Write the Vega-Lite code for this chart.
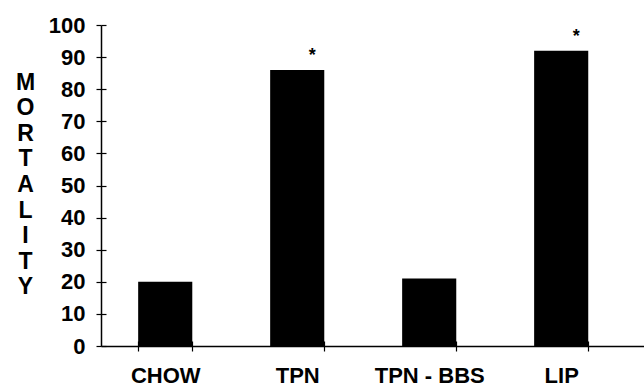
{
  "$schema": "https://vega.github.io/schema/vega-lite/v6.json",
  "autosize": "none",
  "padding": {"left": 101, "top": 25, "right": 0, "bottom": 41},
  "width": 543,
  "height": 321,
  "background": "white",
  "config": {
    "view": {"stroke": null},
    "font": "Liberation Sans",
    "axis": {"grid": false, "domainColor": "black", "tickColor": "black", "labelColor": "black", "titleColor": "black", "labelFont": "Liberation Sans", "titleFont": "Liberation Sans"}
  },
  "data": {
    "values": [
      {"group": "CHOW", "mortality": 20, "sig": ""},
      {"group": "TPN", "mortality": 86, "sig": "*"},
      {"group": "TPN - BBS", "mortality": 21, "sig": ""},
      {"group": "LIP", "mortality": 92, "sig": "*"}
    ]
  },
  "resolve": {"axis": {"x": "independent", "y": "independent"}},
  "layer": [
    {
      "mark": {"type": "bar", "color": "black"},
      "encoding": {
        "x": {
          "field": "group", "type": "nominal", "sort": null,
          "scale": {"paddingInner": 0.59, "paddingOuter": 0.352, "align": 0.4},
          "axis": {"title": null, "labelAngle": 0, "labelFontSize": 22, "labelFontWeight": "bold", "tickBand": "extent", "tickSize": 5, "labelPadding": 14, "domainWidth": 1.5, "tickWidth": 1.2}
        },
        "y": {
          "field": "mortality", "type": "quantitative",
          "scale": {"domain": [0, 100], "nice": false},
          "axis": {
            "values": [0, 10, 20, 30, 40, 50, 60, 70, 80, 90, 100],
            "labelOverlap": false,
            "labelFontSize": 22, "labelFontWeight": "bold", "tickSize": 5, "labelPadding": 11,
            "domainWidth": 1.5, "tickWidth": 1.2,
            "title": ["M", "O", "R", "T", "A", "L", "I", "T", "Y"],
            "titleAngle": 0, "titleAlign": "center", "titleBaseline": "middle",
            "titleX": -76, "titleY": 57, "titleFontSize": 23, "titleFontWeight": "bold", "titleLineHeight": 25.6
          }
        }
      }
    },
    {
      "mark": {"type": "text", "fontSize": 18, "fontWeight": "bold", "dx": 15, "dy": -9, "baseline": "alphabetic", "color": "black"},
      "encoding": {
        "x": {
          "field": "group", "type": "nominal", "sort": null,
          "scale": {"paddingInner": 0.59, "paddingOuter": 0.352, "align": 0.4},
          "axis": {"orient": "bottom", "title": null, "labels": false, "domain": false, "tickBand": "extent", "tickSize": -5, "tickWidth": 1.2}
        },
        "y": {
          "field": "mortality", "type": "quantitative",
          "scale": {"domain": [0, 100], "nice": false},
          "axis": {"orient": "left", "title": null, "labels": false, "domain": false, "values": [0, 10, 20, 30, 40, 50, 60, 70, 80, 90, 100], "tickSize": -5, "tickWidth": 1.2}
        },
        "text": {"field": "sig"}
      }
    }
  ]
}
